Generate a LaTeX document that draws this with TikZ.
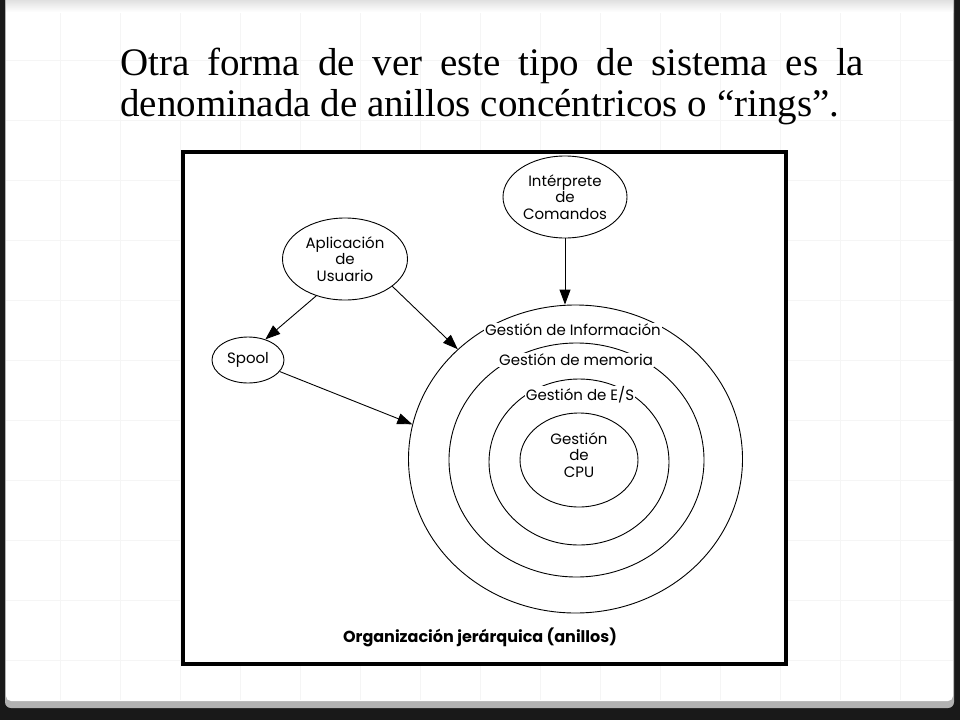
\documentclass[tikz,border=0pt]{standalone}
\usepackage{fontspec}
\setmainfont{Liberation Serif}
\newfontfamily\diagfont{Poppins}
\usetikzlibrary{arrows.meta,shapes.geometric}
\begin{document}
\begin{tikzpicture}[x=1pt,y=-1pt,
  bub/.style={draw=black,line width=0.9pt,ellipse,inner sep=0pt,align=center,
    font=\diagfont\fontsize{15}{16.5}\selectfont},
  ring/.style={draw=black,line width=0.9pt,ellipse,inner sep=0pt},
  ringlabel/.style={fill=white,inner sep=1pt,font=\diagfont\fontsize{15}{16.5}\selectfont},
  arr/.style={draw=black,line width=0.9pt,-{Triangle[length=15pt,width=11pt]}},
  titletext/.style={anchor=base west,inner sep=0pt,font=\fontsize{39}{44}\selectfont}]
\useasboundingbox (0,0) rectangle (960,720);
% slide background
\fill[black!90] (0,0) rectangle (960,720);
\fill[black!30,rounded corners=6pt] (5,-10) rectangle (954,708);
\fill[white,rounded corners=5pt] (6,-10) rectangle (953,701);
\foreach \gx in {60,120,...,900} \draw[black!4,line width=0.6pt] (\gx,10) -- (\gx,700);
\foreach \gy in {60,120,...,660} \draw[black!4,line width=0.6pt] (6,\gy) -- (953,\gy);
\shade[top color=black!12,bottom color=white] (6,0) rectangle (953,12);
% title
\node[titletext] (t1) at (120,75) {\makebox[744pt][s]{Otra forma de ver este tipo de sistema es la}};
\node[titletext] (t2) at (120,116) {denominada de anillos concéntricos o “rings”.};
% figure frame
\fill[white] (183,152) rectangle (786,664);
\draw[black,line width=4pt] (183,152) rectangle (786,664);
% rings
\node[ring,minimum width=334pt,minimum height=308pt] (r1) at (575.5,459) {};
\node[ring,minimum width=255pt,minimum height=234pt] (r2) at (576.5,460) {};
\node[ring,minimum width=180pt,minimum height=166pt] (r3) at (579,462) {};
\node[ring,minimum width=118pt,minimum height=94pt] (r4) at (579,460) {};
\node[ringlabel] (l1) at (573,330) {Gestión de Información};
\node[ringlabel] (l2) at (576,360) {Gestión de memoria};
\node[ringlabel] (l3) at (580,395) {Gestión de E/S};
\node[align=center,inner sep=0pt,font=\diagfont\fontsize{15}{16.5}\selectfont] (l4) at (579,455) {Gestión\\de\\CPU};
% bubbles
\node[bub,minimum width=124pt,minimum height=82pt] (interp) at (565,197) {Intérprete\\de\\Comandos};
\node[bub,minimum width=125pt,minimum height=82pt] (aplic) at (345,259) {Aplicación\\de\\Usuario};
\node[bub,minimum width=72pt,minimum height=46pt] (spool) at (248,360) {Spool};
% arrows
\draw[arr] (interp.south) -- (interp.south |- r1.north);
\draw[arr] (aplic.-128) -- (spool.50);
\draw[arr] (aplic.-30) -- (r1.137);
\draw[arr] (spool.-20) -- (r1.168);
% caption
\node[inner sep=0pt,font=\diagfont\bfseries\fontsize{16}{19}\selectfont] (cap) at (480,637) {Organización jerárquica (anillos)};
\end{tikzpicture}
\end{document}
